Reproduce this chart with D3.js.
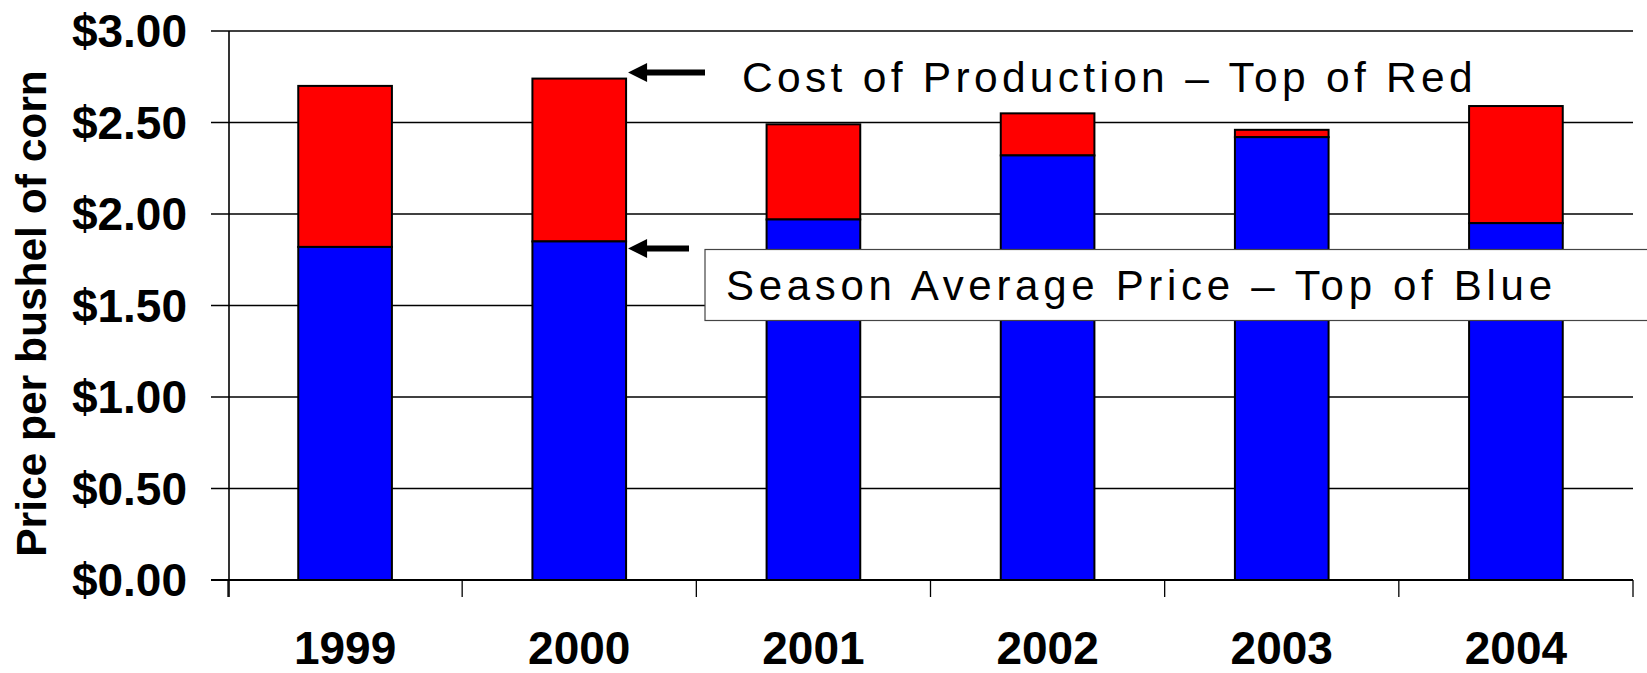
<!DOCTYPE html>
<html>
<head>
<meta charset="utf-8">
<script src="https://cdn.jsdelivr.net/npm/d3@7"></script>
<style>
  html, body { margin: 0; padding: 0; background: #fff; }
  svg { display: block; }
  text { font-family: Arial, "Liberation Sans", sans-serif; }
</style>
</head>
<body>
<svg id="chart" width="1647" height="673"></svg>
<script>
// ---- data ----
const years = ["1999", "2000", "2001", "2002", "2003", "2004"];
const seasonPrice = [1.82, 1.85, 1.97, 2.32, 2.42, 1.95];     // top of blue
const costProduction = [2.70, 2.74, 2.49, 2.55, 2.46, 2.59];  // top of red
const yTicks = [0, 0.5, 1.0, 1.5, 2.0, 2.5, 3.0];
const yTitle = "Price per bushel of corn";
const costLabel = "Cost of Production \u2013 Top of Red";
const priceLabel = "Season Average Price \u2013 Top of Blue";

const svg = d3.select("#chart");

const x = d3.scaleBand().domain(years).range([228, 1633]).paddingInner(0.6).paddingOuter(0.3);
const y = d3.scaleLinear().domain([0, 3]).range([580, 31]);

// gridlines
svg.append("g").selectAll("line").data(yTicks).join("line")
  .attr("x1", 211).attr("x2", 1633)
  .attr("y1", d => y(d)).attr("y2", d => y(d))
  .attr("stroke", "#000").attr("stroke-width", 1.6);

// y tick labels
svg.append("g").selectAll("text").data(yTicks).join("text")
  .attr("x", 187).attr("y", d => y(d) + 16)
  .attr("text-anchor", "end")
  .attr("font-size", 46).attr("font-weight", "bold")
  .text(d => "$" + d.toFixed(2));

// y axis line
svg.append("line").attr("x1", 229).attr("x2", 229).attr("y1", y(3)).attr("y2", 597)
  .attr("stroke", "#000").attr("stroke-width", 1.6);

// x axis ticks at band boundaries
const step = x.step();
const bounds = d3.range(years.length + 1).map(i => x.range()[0] + i * step);
svg.append("g").selectAll("line").data(bounds).join("line")
  .attr("x1", d => d).attr("x2", d => d).attr("y1", y(0)).attr("y2", 597)
  .attr("stroke", "#000").attr("stroke-width", 1.3);

// bars
const data = years.map((yr, i) => ({ yr, p: seasonPrice[i], c: costProduction[i] }));
const g = svg.append("g");
g.selectAll("rect.red").data(data).join("rect").attr("class", "red")
  .attr("x", d => x(d.yr)).attr("width", x.bandwidth())
  .attr("y", d => y(d.c)).attr("height", d => y(d.p) - y(d.c))
  .attr("fill", "#ff0000").attr("stroke", "#000").attr("stroke-width", 2);
g.selectAll("rect.blue").data(data).join("rect").attr("class", "blue")
  .attr("x", d => x(d.yr)).attr("width", x.bandwidth())
  .attr("y", d => y(d.p)).attr("height", d => y(0) - y(d.p))
  .attr("fill", "#0000ff").attr("stroke", "#000").attr("stroke-width", 2);

// x axis baseline
svg.append("line").attr("x1", 211).attr("x2", 1633).attr("y1", y(0)).attr("y2", y(0))
  .attr("stroke", "#000").attr("stroke-width", 1.8);

// year labels
svg.append("g").selectAll("text").data(years).join("text")
  .attr("x", d => x(d) + x.bandwidth() / 2).attr("y", 664)
  .attr("text-anchor", "middle")
  .attr("font-size", 46).attr("font-weight", "bold")
  .text(d => d);

// y title
svg.append("text")
  .attr("transform", "translate(46," + ((y(0) + y(3)) / 2 + 8) + ") rotate(-90)")
  .attr("text-anchor", "middle")
  .attr("font-size", 42.5).attr("font-weight", "bold")
  .text(yTitle);

// annotation box for season price
svg.append("rect").attr("x", 705).attr("y", 249.5).attr("width", 960).attr("height", 71)
  .attr("fill", "#fff").attr("stroke", "#444").attr("stroke-width", 1.2);
svg.append("text").attr("x", 726).attr("y", 299.5)
  .attr("font-size", 42).style("letter-spacing", "4.7px")
  .text(priceLabel);

// cost label
svg.append("text").attr("x", 742).attr("y", 91.5)
  .attr("font-size", 42.5).style("letter-spacing", "4.3px")
  .text(costLabel);

// arrows (pointing left to the 2000 bar)
function arrow(tipX, tipY, endX) {
  const headLen = 19, headHalf = 9.5, shaftHalf = 3;
  const p = d3.path();
  p.moveTo(tipX, tipY);
  p.lineTo(tipX + headLen, tipY - headHalf);
  p.lineTo(tipX + headLen, tipY - shaftHalf);
  p.lineTo(endX, tipY - shaftHalf);
  p.lineTo(endX, tipY + shaftHalf);
  p.lineTo(tipX + headLen, tipY + shaftHalf);
  p.lineTo(tipX + headLen, tipY + headHalf);
  p.closePath();
  svg.append("path").attr("d", p.toString()).attr("fill", "#000");
}
const bar2000Right = x("2000") + x.bandwidth() + 2;
arrow(bar2000Right, y(costProduction[1]) - 6, 705);
arrow(bar2000Right, y(seasonPrice[1]) + 7, 689);
</script>
</body>
</html>
